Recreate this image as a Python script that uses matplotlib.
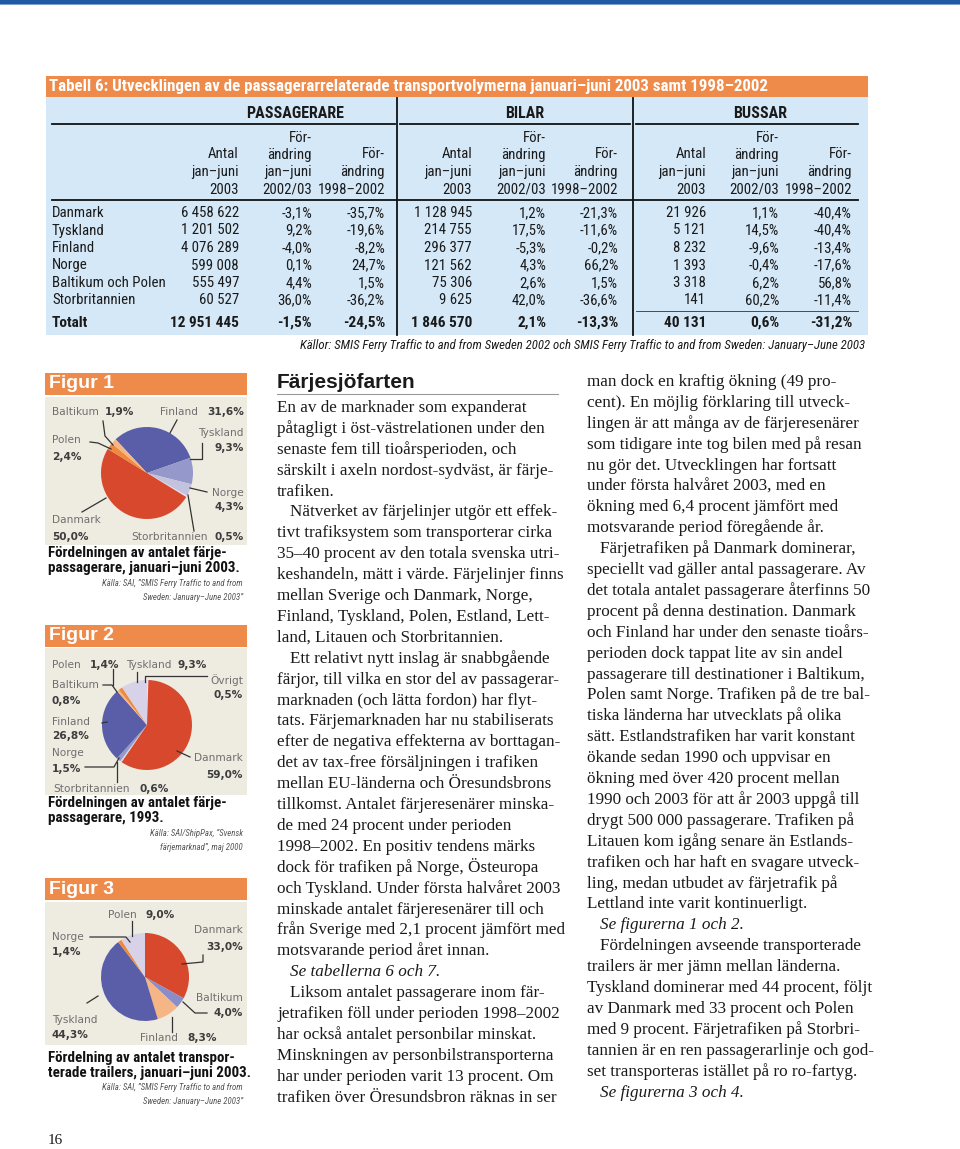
import matplotlib
matplotlib.use("Agg")
import matplotlib.pyplot as plt
from matplotlib import font_manager
from matplotlib.patches import Rectangle

W, H = 960, 1149

# Table 6 data
countries = ["Danmark", "Tyskland", "Finland", "Norge", "Baltikum och Polen", "Storbritannien"]
pass_antal = [6458622, 1201502, 4076289, 599008, 555497, 60527]
pass_chg_0203 = [-3.1, 9.2, -4.0, 0.1, 4.4, 36.0]
pass_chg_9802 = [-35.7, -19.6, -8.2, 24.7, 1.5, -36.2]
bil_antal = [1128945, 214755, 296377, 121562, 75306, 9625]
bil_chg_0203 = [1.2, 17.5, -5.3, 4.3, 2.6, 42.0]
bil_chg_9802 = [-21.3, -11.6, -0.2, 66.2, 1.5, -36.6]
bus_antal = [21926, 5121, 8232, 1393, 3318, 141]
bus_chg_0203 = [1.1, 14.5, -9.6, -0.4, 6.2, 60.2]
bus_chg_9802 = [-40.4, -40.4, -13.4, -17.6, 56.8, -11.4]
tot_pass = [12951445, -1.5, -24.5]
tot_bil = [1846570, 2.1, -13.3]
tot_bus = [40131, 0.6, -31.2]

# Pie data (clockwise order as drawn)
fig1_names = ["Finland", "Tyskland", "Norge", "Storbritannien", "Danmark", "Polen", "Baltikum"]
fig1_vals = [31.6, 9.3, 4.3, 0.5, 50.0, 2.4, 1.9]
fig2_names = ["Övrigt", "Danmark", "Storbritannien", "Norge", "Finland", "Baltikum", "Polen", "Tyskland"]
fig2_vals = [0.5, 59.0, 0.6, 1.5, 26.8, 0.8, 1.4, 9.3]
fig3_names = ["Danmark", "Baltikum", "Finland", "Tyskland", "Norge", "Polen"]
fig3_vals = [33.0, 4.0, 8.3, 44.3, 1.4, 9.0]

RED, BLUE, LAV, LIGHT = "#d8482c", "#5a5ea8", "#9598ca", "#d7d2e8"
ORANGE_D, ORANGE_L = "#ee8a3c", "#f5b585"
fig1_cols = [BLUE, LAV, "#c4c3df", "#e4e2ee", RED, ORANGE_D, ORANGE_L]
fig2_cols = ["#e6e3ee", RED, "#d6d4e6", LAV, BLUE, ORANGE_L, ORANGE_D, LIGHT]
fig3_cols = [RED, "#8a8dc7", ORANGE_L, BLUE, ORANGE_D, LIGHT]

col1 = [
    (False, False, ["En av de marknader som expanderat",
                    "påtagligt i öst-västrelationen under den",
                    "senaste fem till tioårsperioden, och",
                    "särskilt i axeln nordost-sydväst, är färje-",
                    "trafiken."]),
    (True, False, ["Nätverket av färjelinjer utgör ett effek-",
                   "tivt trafiksystem som transporterar cirka",
                   "35–40 procent av den totala svenska utri-",
                   "keshandeln, mätt i värde. Färjelinjer finns",
                   "mellan Sverige och Danmark, Norge,",
                   "Finland, Tyskland, Polen, Estland, Lett-",
                   "land, Litauen och Storbritannien."]),
    (True, False, ["Ett relativt nytt inslag är snabbgående",
                   "färjor, till vilka en stor del av passagerar-",
                   "marknaden (och lätta fordon) har flyt-",
                   "tats. Färjemarknaden har nu stabiliserats",
                   "efter de negativa effekterna av borttagan-",
                   "det av tax-free försäljningen i trafiken",
                   "mellan EU-länderna och Öresundsbrons",
                   "tillkomst. Antalet färjeresenärer minska-",
                   "de med 24 procent under perioden",
                   "1998–2002. En positiv tendens märks",
                   "dock för trafiken på Norge, Östeuropa",
                   "och Tyskland. Under första halvåret 2003",
                   "minskade antalet färjeresenärer till och",
                   "från Sverige med 2,1 procent jämfört med",
                   "motsvarande period året innan."]),
    (True, True, ["Se tabellerna 6 och 7."]),
    (True, False, ["Liksom antalet passagerare inom fär-",
                   "jetrafiken föll under perioden 1998–2002",
                   "har också antalet personbilar minskat.",
                   "Minskningen av personbilstransporterna",
                   "har under perioden varit 13 procent. Om",
                   "trafiken över Öresundsbron räknas in ser"]),
]
col2 = [
    (False, False, ["man dock en kraftig ökning (49 pro-",
                    "cent). En möjlig förklaring till utveck-",
                    "lingen är att många av de färjeresenärer",
                    "som tidigare inte tog bilen med på resan",
                    "nu gör det. Utvecklingen har fortsatt",
                    "under första halvåret 2003, med en",
                    "ökning med 6,4 procent jämfört med",
                    "motsvarande period föregående år."]),
    (True, False, ["Färjetrafiken på Danmark dominerar,",
                   "speciellt vad gäller antal passagerare. Av",
                   "det totala antalet passagerare återfinns 50",
                   "procent på denna destination. Danmark",
                   "och Finland har under den senaste tioårs-",
                   "perioden dock tappat lite av sin andel",
                   "passagerare till destinationer i Baltikum,",
                   "Polen samt Norge. Trafiken på de tre bal-",
                   "tiska länderna har utvecklats på olika",
                   "sätt. Estlandstrafiken har varit konstant",
                   "ökande sedan 1990 och uppvisar en",
                   "ökning med över 420 procent mellan",
                   "1990 och 2003 för att år 2003 uppgå till",
                   "drygt 500 000 passagerare. Trafiken på",
                   "Litauen kom igång senare än Estlands-",
                   "trafiken och har haft en svagare utveck-",
                   "ling, medan utbudet av färjetrafik på",
                   "Lettland inte varit kontinuerligt."]),
    (True, True, ["Se figurerna 1 och 2."]),
    (True, False, ["Fördelningen avseende transporterade",
                   "trailers är mer jämn mellan länderna.",
                   "Tyskland dominerar med 44 procent, följt",
                   "av Danmark med 33 procent och Polen",
                   "med 9 procent. Färjetrafiken på Storbri-",
                   "tannien är en ren passagerarlinje och god-",
                   "set transporteras istället på ro ro-fartyg."]),
    (True, True, ["Se figurerna 3 och 4."]),
]


def find_narrow():
    for name in ["Liberation Sans Narrow", "Roboto Condensed"]:
        try:
            font_manager.findfont(font_manager.FontProperties(family=name),
                                  fallback_to_default=False)
            return name, 1.0
        except ValueError:
            pass
    return "Liberation Sans", 0.84


NARROW, ns = find_narrow()
SANS = "Liberation Sans"
SERIF = "Liberation Serif"
TAB = 10.7 * ns  # table body size


def num(v):
    return f"{v:,}".replace(",", " ")


def pct(v):
    return f"{v:.1f}".replace(".", ",") + "%"


fig = plt.figure(figsize=(W / 100, H / 100), dpi=100)
base = fig.add_axes([0, 0, 1, 1])
base.set_xlim(0, W)
base.set_ylim(H, 0)
base.axis("off")

# page furniture
base.add_patch(Rectangle((0, 0), W, 4, color="#1f5aa3", lw=0))
base.add_patch(Rectangle((0, 4), W, 1.2, color="#7d9fd0", lw=0))
ORANGE = "#ee8b4a"
base.add_patch(Rectangle((46, 76), 822, 21, color=ORANGE, lw=0))
base.add_patch(Rectangle((46, 97), 822, 238, color="#d5e8f8", lw=0))
for y0, h0 in [(373, 22), (625, 22), (878, 22)]:
    base.add_patch(Rectangle((45, y0), 202, h0, color=ORANGE, lw=0))
for y0, y1 in [(397, 545), (648, 795), (902, 1045)]:
    base.add_patch(Rectangle((45, y0), 202, y1 - y0, color="#eeebe1", lw=0))

# pies
pies = [(147, 473, 46, fig1_vals, fig1_cols, 133),
        (147, 725, 45, fig2_vals, fig2_cols, 90),
        (145, 977, 44, fig3_vals, fig3_cols, 90)]
for cx, cy, r, vals, cols, start in pies:
    pax = fig.add_axes([(cx - r) / W, 1 - (cy + r) / H, 2 * r / W, 2 * r / H])
    pax.pie(vals, colors=cols, startangle=start, counterclock=False,
            radius=1, wedgeprops=dict(linewidth=0))
    pax.set_xlim(-1, 1)
    pax.set_ylim(-1, 1)
    pax.axis("off")

top = fig.add_axes([0, 0, 1, 1])
top.set_xlim(0, W)
top.set_ylim(H, 0)
top.axis("off")
TXT = "#1a1a1a"

# ---- table ----
top.text(49, 87, "Tabell 6: Utvecklingen av de passagerarrelaterade transportvolymerna "
         "januari–juni 2003 samt 1998–2002", color="white", fontsize=12.2 * ns,
         fontweight="bold", family=NARROW, va="center")
for x, s in [(295, "PASSAGERARE"), (525, "BILAR"), (760, "BUSSAR")]:
    top.text(x, 114, s, ha="center", va="center", fontsize=11.5 * ns,
             fontweight="bold", family=NARROW, color=TXT)

col_x = [239, 312, 385, 472, 546, 618, 706, 779, 852]
hdr_y = [137.5, 154.5, 172, 189.5]
hdr_antal = ["", "Antal", "jan–juni", "2003"]
hdr_chg1 = ["För-", "ändring", "jan–juni", "2002/03"]
hdr_chg2 = ["", "För-", "ändring", "1998–2002"]
for g in range(3):
    for hdr, xi in [(hdr_antal, 0), (hdr_chg1, 1), (hdr_chg2, 2)]:
        for y, s in zip(hdr_y, hdr):
            top.text(col_x[3 * g + xi], y, s, ha="right", va="center",
                     fontsize=TAB, family=NARROW, color=TXT)

row_y = [213, 230.5, 248, 265.5, 283, 300.5]
cols_data = [pass_antal, pass_chg_0203, pass_chg_9802,
             bil_antal, bil_chg_0203, bil_chg_9802,
             bus_antal, bus_chg_0203, bus_chg_9802]
for i, name in enumerate(countries):
    top.text(52, row_y[i], name, va="center", fontsize=TAB, family=NARROW, color=TXT)
    for j, series in enumerate(cols_data):
        s = num(series[i]) if j % 3 == 0 else pct(series[i])
        top.text(col_x[j], row_y[i], s, ha="right", va="center",
                 fontsize=TAB, family=NARROW, color=TXT)
top.text(52, 323, "Totalt", va="center", fontsize=TAB + 0.4, family=NARROW,
         fontweight="bold", color=TXT)
for g, tot in enumerate([tot_pass, tot_bil, tot_bus]):
    for k, v in enumerate(tot):
        s = num(v) if k == 0 else pct(v)
        top.text(col_x[3 * g + k], 323, s, ha="right", va="center", fontsize=TAB + 0.4,
                 family=NARROW, fontweight="bold", color=TXT)

for x in [397, 633]:
    top.plot([x, x], [98, 335], color="#111111", lw=1.3)
for x0, x1 in [(52, 395), (400, 630), (636, 858)]:
    top.plot([x0, x1], [124, 124], color="#111111", lw=1.3)
top.plot([52, 858], [200, 200], color="#111111", lw=1.3)
top.plot([636, 858], [311, 311], color="#333333", lw=0.6)
top.text(865, 346, "Källor: SMIS Ferry Traffic to and from Sweden 2002 och SMIS Ferry Traffic "
         "to and from Sweden: January–June 2003", ha="right", va="center",
         fontsize=9.15 * ns, family=NARROW, style="italic", color=TXT)

# ---- figure boxes ----
for y, s in [(384, "Figur 1"), (636, "Figur 2"), (889, "Figur 3")]:
    top.text(49, y, s, color="white", fontsize=14, fontweight="bold", family=SANS, va="center")

GREY, DARK = "#6f6f6f", "#3c3c3c"


def pie_labels(names, vals, spots):
    lookup = dict(zip(names, vals))
    for name, (nx, ny, nha, vx, vy, vha) in spots.items():
        top.text(nx, ny, name, ha=nha, va="center", fontsize=7.6, family="DejaVu Sans", color=GREY)
        top.text(vx, vy, pct(lookup[name]), ha=vha, va="center", fontsize=7.6,
                 family="DejaVu Sans", fontweight="bold", color=DARK)


pie_labels(fig1_names, fig1_vals, {
    "Baltikum": (52, 412, "left", 105, 412, "left"),
    "Finland": (198, 412, "right", 244, 412, "right"),
    "Polen": (52, 440, "left", 52, 457, "left"),
    "Tyskland": (244, 433, "right", 244, 448, "right"),
    "Norge": (244, 493, "right", 244, 507, "right"),
    "Danmark": (52, 520, "left", 52, 537, "left"),
    "Storbritannien": (208, 537, "right", 244, 537, "right"),
})
pie_labels(fig2_names, fig2_vals, {
    "Polen": (52, 665, "left", 90, 665, "left"),
    "Tyskland": (126, 665, "left", 177, 665, "left"),
    "Övrigt": (243, 680, "right", 243, 695, "right"),
    "Baltikum": (52, 685, "left", 52, 701, "left"),
    "Finland": (52, 722, "left", 52, 736, "left"),
    "Norge": (52, 753, "left", 52, 769, "left"),
    "Danmark": (243, 758, "right", 243, 775, "right"),
    "Storbritannien": (53, 789, "left", 140, 789, "left"),
})
pie_labels(fig3_names, fig3_vals, {
    "Polen": (108, 915, "left", 145, 915, "left"),
    "Norge": (52, 937, "left", 52, 952, "left"),
    "Danmark": (243, 930, "right", 243, 947, "right"),
    "Baltikum": (243, 998, "right", 243, 1013, "right"),
    "Tyskland": (52, 1020, "left", 52, 1035, "left"),
    "Finland": (140, 1038, "left", 187, 1038, "left"),
})

leaders = [
    [(103, 421), (105, 436), (113, 445)], [(90, 442), (98, 443), (111, 449)],
    [(177, 420), (170, 433)], [(202, 443), (202, 459), (190, 459)],
    [(207, 492), (190, 488)], [(188, 495), (194, 531)], [(82, 512), (106, 498)],
    [(103, 685), (112, 685), (117, 692)], [(113, 669), (113, 685)],
    [(137, 672), (137, 682)], [(207, 676), (145, 676), (145, 682)],
    [(102, 723), (107, 722)], [(85, 767), (114, 767), (119, 758)],
    [(117, 762), (117, 782)], [(190, 757), (177, 751)],
    [(132, 921), (132, 936)], [(90, 937), (126, 937), (130, 942)],
    [(203, 955), (203, 962), (182, 964)], [(207, 1013), (195, 1013), (183, 1002)],
    [(172, 1017), (172, 1032)], [(87, 1003), (98, 996)],
]
for pts in leaders:
    xs, ys = zip(*pts)
    top.plot(xs, ys, color="#333333", lw=0.9)

captions = [
    (553, ["Fördelningen av antalet färje-", "passagerare, januari–juni 2003."],
     583, ["Källa: SAI, ”SMIS Ferry Traffic to and from", "Sweden: January–June 2003”"]),
    (803, ["Fördelningen av antalet färje-", "passagerare, 1993."],
     833, ["Källa: SAI/ShipPax, ”Svensk", "färjemarknad”, maj 2000"]),
    (1058, ["Fördelning av antalet transpor-", "terade trailers, januari–juni 2003."],
     1087, ["Källa: SAI, ”SMIS Ferry Traffic to and from", "Sweden: January–June 2003”"]),
]
for y0, lines, ys0, src in captions:
    for k, s in enumerate(lines):
        top.text(48, y0 + 15 * k, s, va="center", fontsize=10.8 * ns, fontweight="bold",
                 family=NARROW, color="#111111")
    for k, s in enumerate(src):
        top.text(243, ys0 + 14 * k, s, ha="right", va="center", fontsize=6.3 * ns,
                 style="italic", family=NARROW, color="#555555")

# ---- body text (ragged right) ----
top.text(277, 383, "Färjesjöfarten", fontsize=15, fontweight="bold", family=SANS,
         va="center", color=TXT)
top.plot([277, 558], [394, 394], color="#9a9a9a", lw=0.8)

BODY = 12.3


def draw_column(paras, x0, y0, dy):
    y = y0
    for indent, italic, lines in paras:
        for k, line in enumerate(lines):
            xs = x0 + (12.5 if (indent and k == 0) else 0)
            top.text(xs, y, line, fontsize=BODY, family=SERIF, va="baseline",
                     style="italic" if italic else "normal", color=TXT)
            y += dy


draw_column(col1, 277, 412, 20.9)
draw_column(col2, 587, 386, 20.9)

top.text(48, 1140, "16", fontsize=11, family=SERIF, va="center", color=TXT)

fig.savefig("out.png", dpi=100)
